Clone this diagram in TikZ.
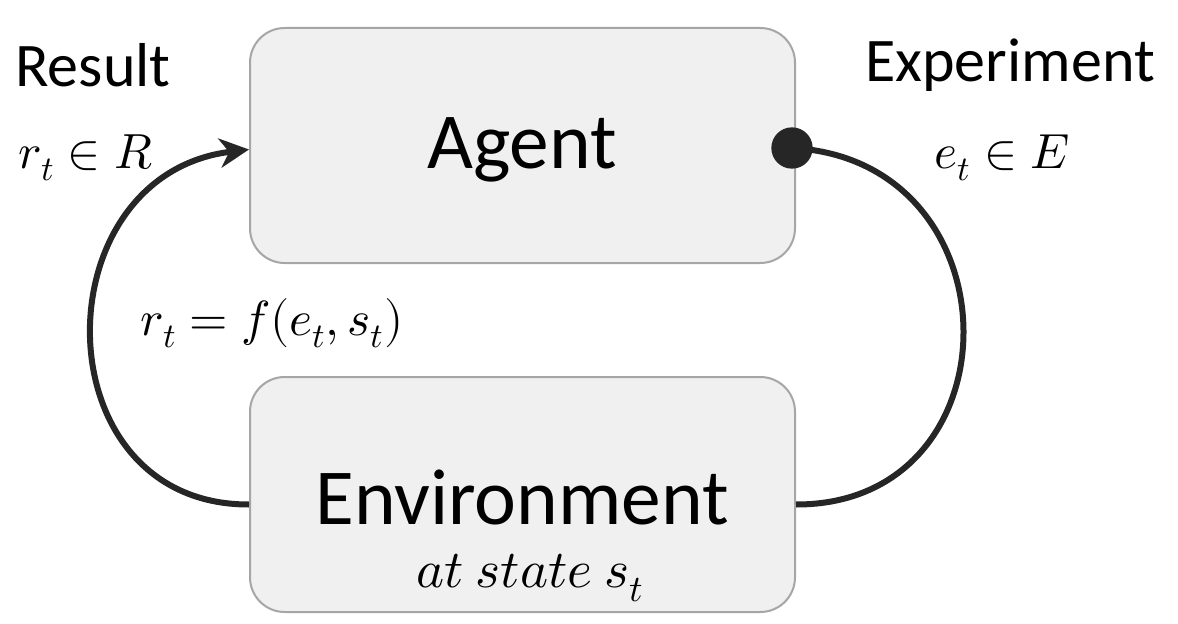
\documentclass[tikz,border=0pt]{standalone}
\usepackage{fontspec}
\usepackage{unicode-math}
\setmainfont{Carlito}
\setmathfont{Latin Modern Math}
\usetikzlibrary{arrows.meta}
\definecolor{boxfill}{HTML}{F0F0F0}
\definecolor{boxline}{HTML}{A6A6A6}
\definecolor{linkcol}{HTML}{262626}
\begin{document}
\begin{tikzpicture}[x=0.75pt,y=-0.75pt,
  box/.style={draw=boxline, fill=boxfill, line width=1.5pt, rounded corners=26pt,
    minimum width=408.75pt, minimum height=176.25pt, inner sep=0pt},
  link/.style={draw=linkcol, line width=4.5pt},
  big/.style={font=\fontsize{59.5}{62}\selectfont, inner sep=0pt},
  lab/.style={font=\fontsize{46.5}{48}\selectfont, inner sep=0pt},
  mth/.style={font=\fontsize{37}{39}\selectfont, inner sep=0pt},
  dotnode/.style={circle, fill=linkcol, minimum size=31pt, inner sep=0pt}]
\useasboundingbox (0,0) rectangle (1178,624);
\node[box] (agent) at (522.5,145.5) {};
\node[box] (env) at (522.5,494.5) {};
\node[big] (agentt) at (522,150) {Agent};
\node[big] (envt) at (522,497) {Environment};
\node[mth, font=\fontsize{40}{42}\selectfont] (state) at (530,578) {$at\ state\ s_t$};
\node[lab] (result) at (93,65) {Result};
\node[lab] (exper) at (1010,65) {Experiment};
\node[mth] (rin) at (86,158) {$r_t \in R$};
\node[mth] (ein) at (1002,158) {$e_t \in E$};
\node[mth] (rf) at (272,323) {$r_t = f(e_t, s_t)$};
\node[dotnode] (dot) at (792,148) {};
\draw[link, -{Stealth[length=22pt,width=22pt,inset=7pt]}]
  ([yshift=-7.5pt]env.west) .. controls (40,505) and (40,175) .. ([yshift=-3pt]agent.west);
\draw[link] (dot.center) .. controls (1020,160) and (1020,505) .. ([yshift=-7.5pt]env.east);
\end{tikzpicture}
\end{document}
